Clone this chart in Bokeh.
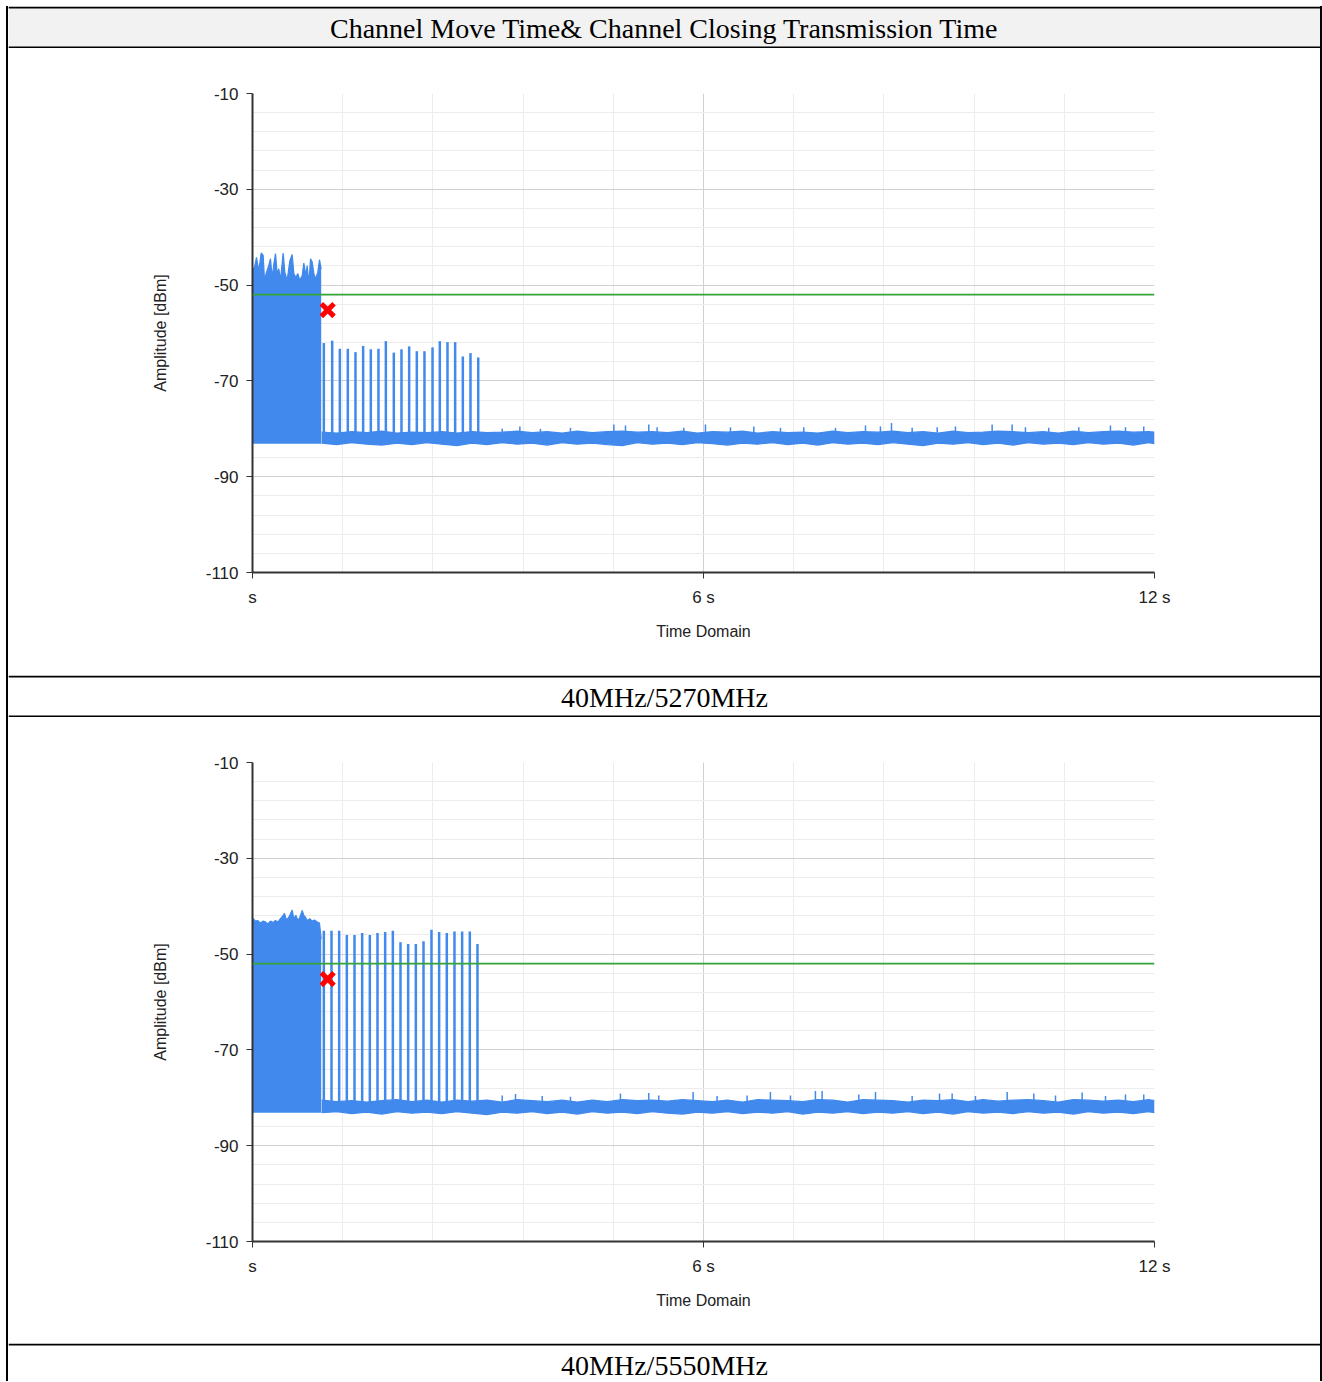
from bokeh.plotting import figure
from bokeh.layouts import column, row
from bokeh.models import Range1d, FixedTicker, Span, Spacer
from bokeh.embed import file_html
from bokeh.resources import INLINE
from bokeh.core.properties import value

# ---------------- texts ----------------
TITLE = "Channel Move Time& Channel Closing Transmission Time"
CAPTIONS = ["40MHz/5270MHz", "40MHz/5550MHz"]
X_LABEL = "Time Domain"
Y_LABEL = "Amplitude [dBm]"

# ---------------- axes ----------------
X_TICKS = [0, 6, 12]
X_TICK_LABELS = ["s", "6 s", "12 s"]
X_MINOR = [1.2, 2.4, 3.6, 4.8, 7.2, 8.4, 9.6, 10.8]
Y_TICKS = [-110, -90, -70, -50, -30, -10]
Y_TICK_LABELS = ["-110", "-90", "-70", "-50", "-30", "-10"]
Y_MINOR = [-106, -102, -98, -94, -86, -82, -78, -74, -66, -62, -58, -54,
           -46, -42, -38, -34, -26, -22, -18, -14]

# ---------------- data ----------------
THRESHOLD = -52.0          # green limit line (dBm)
MARKER_T = 1.0             # red cross (s)
MARKER_DB = -55.2
BURST_FLOOR = -83.1
PULSE_BASE = -81.0
SPIKE_BASE = -80.8

NOISE_T = [0.92, 1.12, 1.32, 1.52, 1.72, 1.92, 2.12, 2.32, 2.52, 2.72,
           2.92, 3.12, 3.32, 3.52, 3.72, 3.92, 4.12, 4.32, 4.52, 4.72,
           4.92, 5.12, 5.32, 5.52, 5.72, 5.92, 6.12, 6.32, 6.52, 6.72,
           6.92, 7.12, 7.32, 7.52, 7.72, 7.92, 8.12, 8.32, 8.52, 8.72,
           8.92, 9.12, 9.32, 9.52, 9.72, 9.92, 10.12, 10.32, 10.52, 10.72,
           10.92, 11.12, 11.32, 11.52, 11.72, 11.92, 12.0]

# chart 1 : 40MHz/5270MHz
C1_BURST_T = [0.0, 0.009, 0.027, 0.053, 0.084, 0.115, 0.142, 0.160, 0.186, 0.217,
              0.239, 0.262, 0.284, 0.306, 0.328, 0.350, 0.372, 0.408, 0.430, 0.461,
              0.497, 0.528, 0.550, 0.577, 0.603, 0.630, 0.661, 0.683, 0.710, 0.727,
              0.750, 0.772, 0.794, 0.816, 0.838, 0.869, 0.891, 0.914]
C1_BURST_DB = [-46.6, -46.6, -46.3, -44.2, -47.0, -43.3, -43.8, -49.0, -47.3, -45.9,
               -44.5, -48.4, -45.6, -43.4, -47.6, -46.6, -49.0, -43.3, -47.3, -49.0,
               -44.9, -43.6, -47.6, -48.4, -47.6, -49.0, -48.0, -45.4, -48.0, -45.9,
               -49.7, -44.5, -45.2, -47.6, -48.7, -47.3, -44.7, -46.6]
C1_PULSE_T = [0.949, 1.060, 1.162, 1.268, 1.370, 1.472, 1.574, 1.676, 1.774, 1.880,
              1.982, 2.084, 2.186, 2.288, 2.395, 2.492, 2.594, 2.696, 2.798, 2.900, 3.003]
C1_PULSE_DB = [-62.1, -61.6, -63.3, -63.3, -64.0, -62.7, -63.4, -63.3, -61.7, -64.1,
               -63.4, -62.8, -63.8, -63.8, -63.0, -61.7, -61.9, -61.9, -64.9, -64.2, -65.1]
C1_NOISE_HI = [-80.7, -80.9, -80.6, -80.8, -80.5, -80.9, -80.7, -80.8, -80.6, -80.9,
               -80.6, -80.8, -80.7, -80.5, -80.8, -80.6, -80.9, -80.5, -80.8, -80.6,
               -80.5, -80.7, -80.6, -80.8, -80.5, -80.9, -80.6, -80.7, -80.5, -80.9,
               -80.6, -80.8, -80.7, -80.9, -80.5, -80.8, -80.6, -80.7, -80.5, -80.8,
               -80.6, -80.9, -80.5, -80.8, -80.7, -80.5, -80.6, -80.8, -80.6, -80.9,
               -80.5, -80.8, -80.6, -80.5, -80.7, -80.6, -80.7]
C1_NOISE_LO = [-83.0, -83.3, -82.9, -83.2, -83.4, -83.0, -83.3, -82.9, -83.2, -83.5,
               -83.0, -83.3, -82.9, -83.2, -83.0, -83.4, -82.9, -83.2, -83.0, -83.3,
               -83.5, -82.9, -83.2, -83.0, -83.3, -82.9, -83.1, -83.4, -83.0, -83.2,
               -82.9, -83.3, -83.0, -83.4, -82.9, -83.2, -83.0, -83.3, -82.9, -83.2,
               -83.5, -83.0, -83.2, -82.9, -83.3, -83.0, -83.4, -82.9, -83.2, -83.0,
               -83.3, -82.9, -83.2, -83.0, -83.4, -82.9, -83.1]
C1_SPIKE_T = [3.322, 3.557, 3.831, 4.230, 4.807, 4.962, 5.272, 5.383, 5.738, 6.026,
              6.359, 6.669, 7.024, 7.334, 7.756, 8.155, 8.354, 8.501, 8.776, 9.109,
              9.352, 9.840, 10.106, 10.283, 10.593, 10.993, 11.414, 11.614, 11.857]
C1_SPIKE_DB = [-80.0, -79.5, -80.0, -79.8, -79.1, -79.3, -79.1, -79.7, -79.8, -79.1,
               -79.7, -79.5, -79.8, -79.7, -79.8, -79.3, -79.5, -78.8, -79.8, -79.7,
               -79.5, -79.1, -79.1, -79.7, -79.8, -79.7, -79.3, -79.7, -79.5]

# chart 2 : 40MHz/5550MHz
C2_BURST_T = [0.0, 0.009, 0.040, 0.071, 0.106, 0.142, 0.173, 0.204, 0.239, 0.275,
              0.306, 0.337, 0.372, 0.408, 0.426, 0.452, 0.483, 0.505, 0.528, 0.550,
              0.577, 0.603, 0.630, 0.661, 0.683, 0.705, 0.727, 0.763, 0.794, 0.825,
              0.861, 0.891, 0.914]
C2_BURST_DB = [-42.6, -42.6, -43.1, -43.0, -43.5, -43.1, -43.3, -43.7, -43.1, -43.4,
               -43.0, -43.3, -42.6, -41.9, -41.5, -42.9, -42.3, -41.6, -40.8, -42.6,
               -41.9, -43.0, -42.3, -40.9, -41.9, -42.3, -43.0, -42.6, -43.1, -42.9,
               -43.3, -43.5, -46.8]
C2_PULSE_T = [0.949, 1.051, 1.153, 1.255, 1.357, 1.459, 1.561, 1.663, 1.765, 1.867,
              1.969, 2.071, 2.173, 2.275, 2.381, 2.483, 2.585, 2.687, 2.789, 2.891, 2.993]
C2_PULSE_DB = [-45.1, -45.1, -45.1, -46.0, -46.0, -45.6, -46.0, -45.6, -45.4, -45.1,
               -47.5, -47.9, -47.9, -47.3, -44.9, -45.4, -45.6, -45.3, -45.3, -45.3, -47.9]
C2_NOISE_HI = [-80.5, -80.8, -80.6, -80.9, -80.6, -80.4, -80.8, -80.5, -80.9, -80.5,
               -80.7, -80.5, -80.9, -80.4, -80.6, -80.8, -80.5, -80.9, -80.5, -80.8,
               -80.4, -80.6, -80.5, -80.7, -80.4, -80.6, -80.8, -80.5, -80.9, -80.4,
               -80.5, -80.6, -80.8, -80.4, -80.5, -80.9, -80.4, -80.5, -80.6, -80.9,
               -80.5, -80.6, -80.4, -80.8, -80.4, -80.7, -80.5, -80.4, -80.6, -80.9,
               -80.4, -80.5, -80.7, -80.5, -80.8, -80.4, -80.6]
C2_NOISE_LO = [-83.1, -82.9, -83.3, -83.0, -83.4, -82.9, -83.2, -83.0, -83.3, -82.9,
               -83.2, -83.5, -83.0, -83.2, -82.9, -83.3, -83.0, -83.4, -82.9, -83.2,
               -83.0, -83.3, -82.9, -83.2, -83.4, -83.0, -83.2, -82.9, -83.3, -83.0,
               -83.2, -82.9, -83.4, -83.0, -83.2, -82.9, -83.3, -83.0, -83.2, -82.9,
               -83.3, -83.0, -83.4, -82.9, -83.2, -83.0, -83.3, -82.9, -83.2, -83.0,
               -83.4, -82.9, -83.2, -83.0, -83.3, -82.9, -83.1]
C2_SPIKE_T = [3.322, 3.499, 3.854, 4.230, 4.895, 5.272, 5.405, 5.862, 6.181, 6.580,
              6.890, 7.157, 7.489, 7.578, 8.066, 8.288, 8.776, 9.140, 9.308, 9.618,
              10.040, 10.394, 10.683, 11.037, 11.348, 11.614, 11.857]
C2_SPIKE_DB = [-79.5, -79.2, -79.6, -79.8, -79.1, -79.0, -79.5, -78.8, -79.6, -79.5,
               -78.8, -79.5, -78.6, -78.6, -79.3, -78.8, -79.6, -79.1, -79.1, -79.6,
               -78.8, -79.1, -79.5, -78.9, -79.6, -79.3, -79.3]

# ---------------- style ----------------
W = 1312
BLUE = "#4189ec"
GREEN = "#36a336"
RED = "#ff0000"
SIDE_BORDERS = {"box-shadow": "-2px 0 0 0 #000000, 2px 0 0 0 #000000"}
SERIF = "Liberation Serif"
SANS = "Liberation Sans"


def text_cell(text, h, text_y, bg, bottom=True):
    p = figure(width=W, height=h, x_range=Range1d(0, W), y_range=Range1d(h, 0),
               output_backend="svg", toolbar_location=None,
               x_axis_type=None, y_axis_type=None,
               min_border=0, min_border_left=0, min_border_right=0,
               min_border_top=0, min_border_bottom=0,
               background_fill_color=bg, border_fill_color=bg,
               outline_line_color=None, frame_align=False)
    p.styles = SIDE_BORDERS
    p.grid.visible = False
    ys = [1, h - 1] if bottom else [1]
    p.segment(x0=[0] * len(ys), y0=ys, x1=[W] * len(ys), y1=ys,
              line_color="#000000", line_width=2)
    p.text(x=[W / 2], y=[text_y], text=[text], text_font=value(SERIF),
           text_font_size="28px", text_align="center", text_baseline="middle",
           text_color="#000000")
    return p


def chart(h, top, bottom, burst_t, burst_db, pulse_t, pulse_db, hi, lo,
          spike_t, spike_db):
    p = figure(width=W, height=h, x_range=Range1d(0, 12), y_range=Range1d(-110, -10),
               output_backend="svg", toolbar_location=None,
               min_border_left=244, min_border_right=166,
               min_border_top=top, min_border_bottom=bottom,
               background_fill_color="white", border_fill_color="white",
               outline_line_color=None, frame_align=False)
    p.styles = SIDE_BORDERS

    xt = FixedTicker(ticks=X_TICKS, minor_ticks=X_MINOR)
    yt = FixedTicker(ticks=Y_TICKS, minor_ticks=Y_MINOR)
    p.xaxis.ticker = xt
    p.xgrid.ticker = xt
    p.yaxis.ticker = yt
    p.ygrid.ticker = yt
    p.xaxis.major_label_overrides = {t: l for t, l in zip(X_TICKS, X_TICK_LABELS)}
    p.yaxis.major_label_overrides = {t: l for t, l in zip(Y_TICKS, Y_TICK_LABELS)}

    p.xgrid.grid_line_color = "#d0d0d0"
    p.ygrid.grid_line_color = "#d0d0d0"
    p.xgrid.minor_grid_line_color = "#ececec"
    p.ygrid.minor_grid_line_color = "#ececec"

    for ax in (p.xaxis[0], p.yaxis[0]):
        ax.axis_line_color = "#333333"
        ax.axis_line_width = 2
        ax.major_tick_line_color = "#333333"
        ax.major_tick_in = 0
        ax.major_tick_out = 6
        ax.minor_tick_in = 0
        ax.minor_tick_out = 0
        ax.major_label_text_font = SANS
        ax.major_label_text_font_size = "17px"
        ax.major_label_text_color = "#222222"
        ax.axis_label_text_font = SANS
        ax.axis_label_text_font_size = "16px"
        ax.axis_label_text_font_style = "normal"
        ax.axis_label_text_color = "#222222"
    p.xaxis.axis_label = X_LABEL
    p.yaxis.axis_label = Y_LABEL
    p.xaxis.major_label_standoff = 9
    p.yaxis.major_label_standoff = 8
    p.xaxis.axis_label_standoff = 13
    p.yaxis.axis_label_standoff = 34

    # noise floor
    p.varea(x=NOISE_T, y1=lo, y2=hi, fill_color=BLUE)
    p.line(NOISE_T, hi, line_color=BLUE, line_width=1.2)
    p.line(NOISE_T, lo, line_color=BLUE, line_width=1.2)
    p.segment(x0=spike_t, y0=SPIKE_BASE, x1=spike_t, y1=spike_db,
              line_color=BLUE, line_width=1.5)
    # initial transmission burst
    p.varea(x=burst_t, y1=BURST_FLOOR, y2=burst_db, fill_color=BLUE)
    p.line(burst_t, burst_db, line_color=BLUE, line_width=1.2)
    # individual transmissions after the move
    p.segment(x0=pulse_t, y0=PULSE_BASE, x1=pulse_t, y1=pulse_db,
              line_color=BLUE, line_width=2.5)
    # threshold
    p.add_layout(Span(location=THRESHOLD, dimension="width",
                      line_color=GREEN, line_width=1.8))
    # marker
    p.scatter(x=[MARKER_T], y=[MARKER_DB], marker="x", size=18,
              line_color=RED, line_width=5)
    return p


header = text_cell(TITLE, 42, 22, "#f2f2f2")
c1 = chart(627, 45, 103, C1_BURST_T, C1_BURST_DB, C1_PULSE_T, C1_PULSE_DB,
           C1_NOISE_HI, C1_NOISE_LO, C1_SPIKE_T, C1_SPIKE_DB)
cap1 = text_cell(CAPTIONS[0], 42, 22, "white")
c2 = chart(626, 45, 102, C2_BURST_T, C2_BURST_DB, C2_PULSE_T, C2_PULSE_DB,
           C2_NOISE_HI, C2_NOISE_LO, C2_SPIKE_T, C2_SPIKE_DB)
cap2 = text_cell(CAPTIONS[1], 38, 22, "white", bottom=False)

table = column(Spacer(width=W, height=6), header, c1, cap1, c2, cap2, spacing=0)
layout = row(Spacer(width=8, height=10), table, spacing=0)

open("out.html", "w").write(file_html(layout, INLINE, title="Channel Move Time"))
